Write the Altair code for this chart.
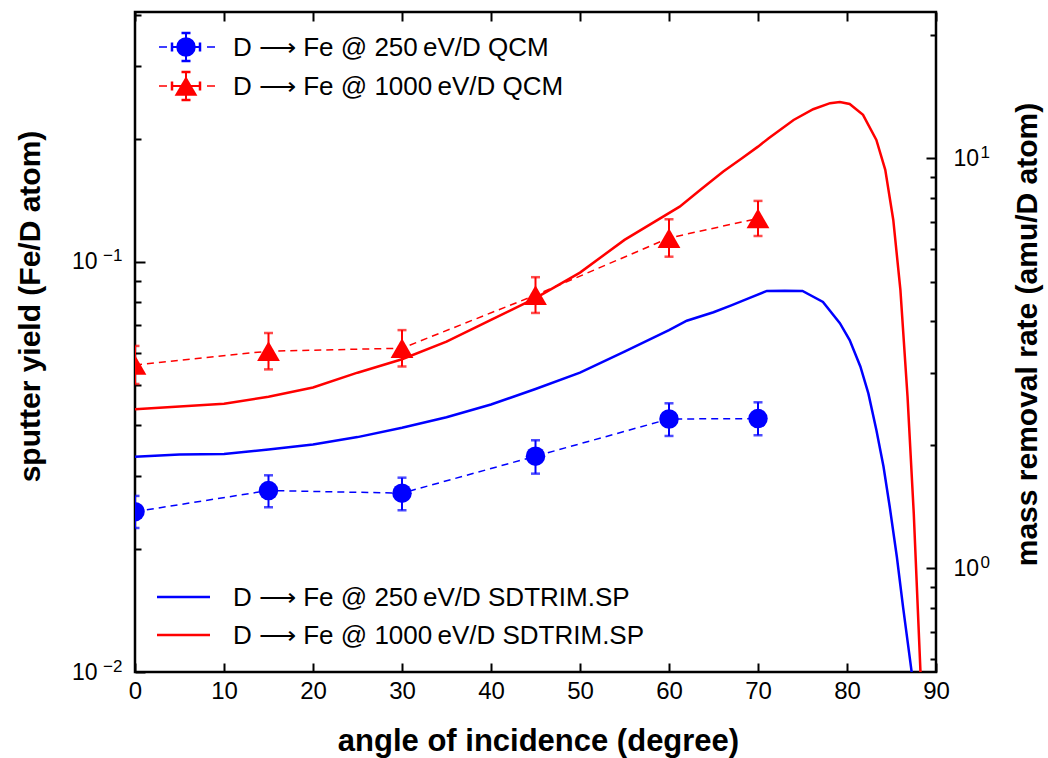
import altair as alt
import pandas as pd

FE_MASS = 55.845  # amu, converts yield (Fe/D) to mass removal (amu/D)

# ---------------- data ----------------
qcm_angle = [0, 15, 30, 45, 60, 70]
qcm250_yield = [0.0246, 0.0277, 0.0273, 0.0336, 0.0414, 0.0415]
qcm250_lo = [0.02245, 0.02522, 0.02480, 0.03046, 0.03764, 0.03779]
qcm250_hi = [0.02688, 0.03018, 0.02978, 0.03674, 0.04522, 0.04547]
qcm1000_yield = [0.0561, 0.0606, 0.0616, 0.0830, 0.1144, 0.1277]
qcm1000_lo = [0.0504, 0.0547, 0.0556, 0.0751, 0.1030, 0.1157]
qcm1000_hi = [0.0624, 0.0671, 0.0682, 0.0918, 0.1271, 0.1409]

sd250_angle = [0, 5, 10, 15, 20, 25, 30, 35, 40, 45, 50, 55, 60, 62, 65, 67, 69,
               71, 73, 75, 77.3, 79.2, 80.3, 81.5, 82.4, 83.3, 84.1, 84.8, 85.6,
               86.3, 87.4]
sd250_yield = [0.0335, 0.0339, 0.0340, 0.0349, 0.0359, 0.0374, 0.0394, 0.0418,
               0.0449, 0.0490, 0.0537, 0.0604, 0.0682, 0.0719, 0.0754, 0.0784,
               0.0816, 0.0850, 0.0851, 0.0850, 0.0799, 0.0709, 0.0645, 0.0556,
               0.0478, 0.0389, 0.0317, 0.0253, 0.0191, 0.0144, 0.0095]

sd1000_angle = [0, 5, 10, 15, 20, 25, 30, 35, 40, 45, 50, 55, 61.2, 63.5, 66.1,
                68.2, 70, 71.2, 74, 76.2, 78.1, 79.2, 80.3, 81.8, 83.3, 84.3,
                85.2, 86.0, 86.8, 87.5, 88.3]
sd1000_yield = [0.0437, 0.0444, 0.0451, 0.0469, 0.0494, 0.0537, 0.0579, 0.0639,
                0.0722, 0.0816, 0.0942, 0.1132, 0.1364, 0.1498, 0.1661, 0.1790,
                0.1911, 0.2003, 0.2220, 0.2358, 0.2439, 0.2455, 0.2429, 0.2284,
                0.1984, 0.1677, 0.1266, 0.0855, 0.0470, 0.0244, 0.0095]

ARROW = "\u27f6"
qcm_labels = [f"D {ARROW} Fe @ 250\u2009eV/D QCM", f"D {ARROW} Fe @ 1000\u2009eV/D QCM"]
sd_labels = [f"D {ARROW} Fe @ 250\u2009eV/D SDTRIM.SP", f"D {ARROW} Fe @ 1000\u2009eV/D SDTRIM.SP"]
colors = ["#0000ff", "#ff0000"]

x_ticks = [0, 10, 20, 30, 40, 50, 60, 70, 80, 90]
y_major = [0.01, 0.1]
y_minor = [0.02, 0.03, 0.04, 0.05, 0.06, 0.07, 0.08, 0.09, 0.2, 0.3, 0.4]
m_major = [1, 10]
m_minor = [0.6, 0.7, 0.8, 0.9, 2, 3, 4, 5, 6, 7, 8, 9, 20]

Y_DOMAIN = [0.01, 0.407]
X_DOMAIN = [0, 90]
FONT = "Liberation Sans"

# ---------------- tables ----------------
sd = pd.concat([
    pd.DataFrame({"angle": sd250_angle, "yield": sd250_yield, "series": sd_labels[0]}),
    pd.DataFrame({"angle": sd1000_angle, "yield": sd1000_yield, "series": sd_labels[1]}),
])
qcm = pd.concat([
    pd.DataFrame({"angle": qcm_angle, "yield": qcm250_yield, "lo": qcm250_lo,
                  "hi": qcm250_hi, "series": qcm_labels[0]}),
    pd.DataFrame({"angle": qcm_angle, "yield": qcm1000_yield, "lo": qcm1000_lo,
                  "hi": qcm1000_hi, "series": qcm_labels[1]}),
])

xs = alt.Scale(domain=X_DOMAIN)
ys = alt.Scale(type="log", domain=Y_DOMAIN)
col_sd = alt.Color("series:N", scale=alt.Scale(domain=sd_labels, range=colors), legend=None)
col_q = alt.Color("series:N", scale=alt.Scale(domain=qcm_labels, range=colors), legend=None)

X = lambda f="angle": alt.X(f"{f}:Q", scale=xs, axis=None)
Y = lambda f="yield": alt.Y(f"{f}:Q", scale=ys, axis=None)

sd_lines = alt.Chart(sd).mark_line(strokeWidth=2.5, clip=True).encode(
    x=X(), y=Y(), color=col_sd, detail="series:N")
q_lines = alt.Chart(qcm).mark_line(strokeWidth=1.5, strokeDash=[7, 5], clip=True).encode(
    x=X(), y=Y(), color=col_q, detail="series:N")
q_bars = alt.Chart(qcm).mark_rule(strokeWidth=2, clip=True).encode(
    x=X(), y=Y("lo"), y2="hi:Q", color=col_q)
q_caps_lo = alt.Chart(qcm).mark_tick(orient="horizontal", size=9, thickness=2.5, clip=True).encode(
    x=X(), y=Y("lo"), color=col_q)
q_caps_hi = alt.Chart(qcm).mark_tick(orient="horizontal", size=9, thickness=2.5, clip=True).encode(
    x=X(), y=Y("hi"), color=col_q)
q_circ = alt.Chart(qcm[qcm.series == qcm_labels[0]]).mark_point(
    shape="circle", filled=True, size=380, opacity=1, clip=True, color=colors[0]).encode(x=X(), y=Y())
q_tri = alt.Chart(qcm[qcm.series == qcm_labels[1]]).mark_point(
    shape="triangle-up", filled=True, size=520, opacity=1, clip=True, color=colors[1]).encode(x=X(), y=Y())

# ---------------- axes (inward ticks via negative offset) ----------------
dummy = pd.DataFrame({"angle": [45], "yield": [0.05]})


def axis_layer(channel, **axis_kw):
    base = alt.Chart(dummy).mark_point(opacity=0)
    common = dict(grid=False, domain=False, tickColor="black", tickWidth=2,
                  labelFont=FONT, titleFont=FONT, labelColor="black", titleColor="black",
                  labelOverlap=False, labelFlush=False)
    common.update(axis_kw)
    if channel == "x":
        return base.encode(x=alt.X("angle:Q", scale=xs, axis=alt.Axis(**common)),
                           y=alt.Y("yield:Q", scale=ys, axis=None))
    return base.encode(x=alt.X("angle:Q", scale=xs, axis=None),
                       y=alt.Y("yield:Q", scale=ys, axis=alt.Axis(**common)))


ax_bottom = axis_layer("x", orient="bottom", values=x_ticks, tickSize=9, offset=-9,
                       labelFontSize=24, labelPadding=7, title="angle of incidence (degree)",
                       titleFontSize=31, titleFontWeight="bold", titleX=403, titleY=78,
                       titleBaseline="middle", titleAlign="center")
ax_top = axis_layer("x", orient="top", values=x_ticks, tickSize=9, offset=-9,
                    labels=False, title=None)
# left: "10" mantissa + raised exponent as a second label axis
ax_left_major = axis_layer("y", orient="left", values=y_major, tickSize=10, offset=-10,
                           labelFontSize=23, labelPadding=38, labelExpr="'10'",
                           title="sputter yield (Fe/D atom)", titleFontSize=30,
                           titleFontWeight="bold", titleAngle=270, titleX=-115, titleY=294,
                           titleBaseline="middle", titleAlign="center")
ax_left_exp = axis_layer("y", orient="left", values=y_major, ticks=False, offset=-10,
                         labelFontSize=17, labelPadding=23, labelOffset=-6,
                         labelExpr="datum.value < 0.05 ? '\u22122' : '\u22121'", title=None)
ax_left_minor = axis_layer("y", orient="left", values=y_minor, tickSize=6, offset=-6,
                           labels=False, title=None)
# right: mass removal rate (same scale, shifted by Fe mass)
ax_right_major = axis_layer("y", orient="right", values=[m / FE_MASS for m in m_major],
                            tickSize=10, offset=-10, labelFontSize=23, labelPadding=17,
                            labelExpr="'10'",
                            title="mass removal rate (amu/D atom)", titleFontSize=30,
                            titleFontWeight="bold", titleAngle=270, titleX=101, titleY=322,
                            titleBaseline="middle", titleAlign="center")
ax_right_exp = axis_layer("y", orient="right", values=[m / FE_MASS for m in m_major],
                          ticks=False, offset=-10, labelFontSize=17, labelPadding=54,
                          labelOffset=-6,
                          labelExpr=f"datum.value * {FE_MASS} > 5 ? '1' : '0'", title=None)
ax_right_minor = axis_layer("y", orient="right", values=[m / FE_MASS for m in m_minor],
                            tickSize=6, offset=-6, labels=False, title=None)

# ---------------- hand-made legends ----------------
one = pd.DataFrame({"a": [0]})
legend_layers = []
qcm_rows = [35, 74]
for lab, c, yy, shape, sz in zip(qcm_labels, colors, qcm_rows,
                                 ["circle", "triangle-up"], [380, 520]):
    cx = 51
    legend_layers += [
        alt.Chart(one).mark_rule(color=c, strokeWidth=1.5, strokeDash=[8, 40]).encode(
            x=alt.value(24), x2=alt.value(80), y=alt.value(yy)),
        alt.Chart(one).mark_rule(color=c, strokeWidth=2).encode(
            x=alt.value(cx - 14), x2=alt.value(cx + 14), y=alt.value(yy)),
        alt.Chart(one).mark_rule(color=c, strokeWidth=2.5).encode(
            x=alt.value(cx - 14), y=alt.value(yy - 4.5), y2=alt.value(yy + 4.5)),
        alt.Chart(one).mark_rule(color=c, strokeWidth=2.5).encode(
            x=alt.value(cx + 14), y=alt.value(yy - 4.5), y2=alt.value(yy + 4.5)),
        alt.Chart(one).mark_rule(color=c, strokeWidth=2).encode(
            x=alt.value(cx), y=alt.value(yy - 14), y2=alt.value(yy + 14)),
        alt.Chart(one).mark_rule(color=c, strokeWidth=2.5).encode(
            x=alt.value(cx - 4.5), x2=alt.value(cx + 4.5), y=alt.value(yy - 14)),
        alt.Chart(one).mark_rule(color=c, strokeWidth=2.5).encode(
            x=alt.value(cx - 4.5), x2=alt.value(cx + 4.5), y=alt.value(yy + 14)),
        alt.Chart(one).mark_point(shape=shape, filled=True, size=sz, opacity=1, color=c).encode(
            x=alt.value(cx), y=alt.value(yy)),
        alt.Chart(one).mark_text(text=lab, align="left", baseline="middle", font=FONT,
                                 fontSize=26, color="black").encode(
            x=alt.value(98), y=alt.value(yy + 1)),
    ]
sd_rows = [585, 623]
for lab, c, yy in zip(sd_labels, colors, sd_rows):
    legend_layers += [
        alt.Chart(one).mark_rule(color=c, strokeWidth=2.5).encode(
            x=alt.value(22), x2=alt.value(75), y=alt.value(yy)),
        alt.Chart(one).mark_text(text=lab, align="left", baseline="middle", font=FONT,
                                 fontSize=26, color="black").encode(
            x=alt.value(98), y=alt.value(yy + 1)),
    ]

chart = alt.layer(
    ax_bottom, ax_top, ax_left_major, ax_left_exp, ax_left_minor,
    ax_right_major, ax_right_exp, ax_right_minor,
    sd_lines, q_lines, q_bars, q_caps_lo, q_caps_hi, q_circ, q_tri,
    *legend_layers,
).resolve_axis(x="independent", y="independent").properties(
    width=801, height=660,
    autosize=alt.AutoSizeParams(type="none"),
    padding={"left": 135, "top": 12, "right": 112, "bottom": 86},
    background="white",
).configure_view(stroke="black", strokeWidth=2.5)

chart.save("out.html", embed_options={"renderer": "svg", "actions": False})
